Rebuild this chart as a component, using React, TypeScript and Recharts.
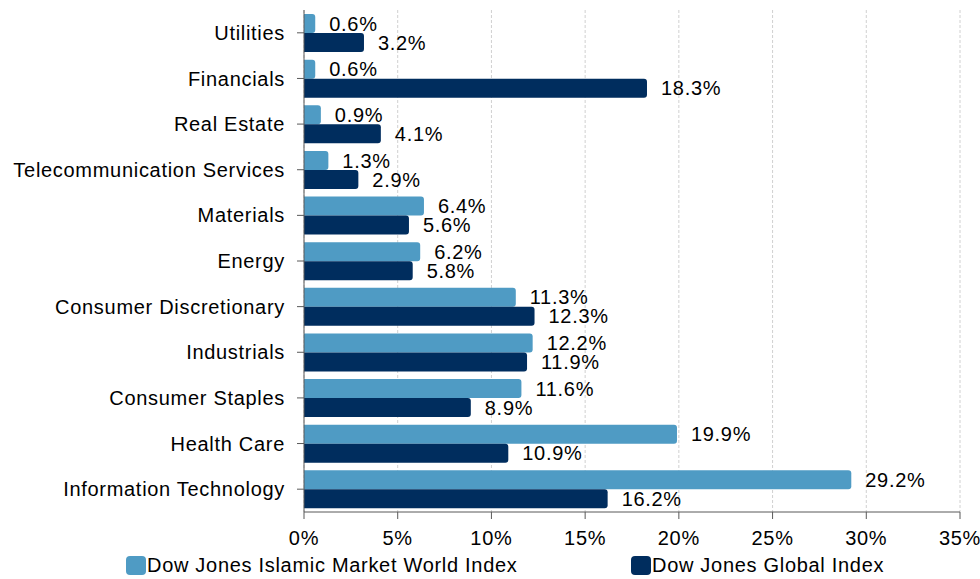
import React from "react";
import { BarChart, Bar, XAxis, YAxis, CartesianGrid, LabelList, Legend } from "recharts";

const categories = [
  "Utilities",
  "Financials",
  "Real Estate",
  "Telecommunication Services",
  "Materials",
  "Energy",
  "Consumer Discretionary",
  "Industrials",
  "Consumer Staples",
  "Health Care",
  "Information Technology",
];
const islamicValues = [0.6, 0.6, 0.9, 1.3, 6.4, 6.2, 11.3, 12.2, 11.6, 19.9, 29.2];
const globalValues = [3.2, 18.3, 4.1, 2.9, 5.6, 5.8, 12.3, 11.9, 8.9, 10.9, 16.2];
const xTicks = [0, 5, 10, 15, 20, 25, 30, 35];
const seriesNames = ["Dow Jones Islamic Market World Index", "Dow Jones Global Index"];

const LIGHT = "#4F9BC4";
const DARK = "#002D5E";
const FONT = "'Liberation Sans', Arial, sans-serif";
const FS = 20;
const LS = "0.7px";

const data = categories.map((c, i) => ({
  name: c,
  islamic: islamicValues[i],
  global: globalValues[i],
}));

const LegendContent = () => {
  const items = [
    { name: seriesNames[0], color: LIGHT, left: 126 },
    { name: seriesNames[1], color: DARK, left: 631 },
  ];
  return (
    <div style={{ position: "relative", width: 980, height: 30 }}>
      {items.map((it) => (
        <div
          key={it.name}
          style={{
            position: "absolute",
            left: it.left,
            top: 7,
            display: "flex",
            alignItems: "center",
            fontFamily: FONT,
            fontSize: FS,
            letterSpacing: LS,
            color: "#000",
            whiteSpace: "nowrap",
          }}
        >
          <span
            style={{
              display: "inline-block",
              width: 20,
              height: 19,
              borderRadius: 4,
              background: it.color,
              marginRight: 1,
            }}
          />
          <span style={{ lineHeight: "19px" }}>{it.name}</span>
        </div>
      ))}
    </div>
  );
};

const textStyle = { fill: "#000", fontSize: FS, fontFamily: FONT, letterSpacing: LS };

export default function App() {
  return (
    <div style={{ position: "absolute", left: 0, top: 0, width: 980, height: 579, background: "#fff" }}>
      <BarChart
        width={980}
        height={579}
        data={data}
        layout="vertical"
        margin={{ top: 10, right: 20, bottom: 0, left: 0 }}
        barCategoryGap={4}
        barGap={0}
      >
        <CartesianGrid horizontal={false} vertical={true} stroke="#d0d0d0" strokeDasharray="3 2" />
        <XAxis
          type="number"
          domain={[0, 35]}
          ticks={xTicks}
          tickFormatter={(v) => `${v}%`}
          height={37}
          tickSize={7}
          tickMargin={12}
          axisLine={{ stroke: "#595959" }}
          tickLine={{ stroke: "#595959" }}
          tick={textStyle}
          interval={0}
        />
        <YAxis
          type="category"
          dataKey="name"
          width={304}
          tickSize={7}
          tickMargin={12}
          axisLine={{ stroke: "#595959" }}
          tickLine={{ stroke: "#595959" }}
          tick={textStyle}
          interval={0}
        />
        <Legend verticalAlign="bottom" height={30} content={<LegendContent />} wrapperStyle={{ left: 0, width: 980 }} />
        <Bar dataKey="islamic" name={seriesNames[0]} fill={LIGHT} radius={[0, 3, 3, 0]} isAnimationActive={false}>
          <LabelList
            dataKey="islamic"
            position="right"
            offset={14}
            formatter={(v: number) => `${v.toFixed(1)}%`}
            style={textStyle}
          />
        </Bar>
        <Bar dataKey="global" name={seriesNames[1]} fill={DARK} radius={[0, 3, 3, 0]} isAnimationActive={false}>
          <LabelList
            dataKey="global"
            position="right"
            offset={14}
            formatter={(v: number) => `${v.toFixed(1)}%`}
            style={textStyle}
          />
        </Bar>
      </BarChart>
    </div>
  );
}
